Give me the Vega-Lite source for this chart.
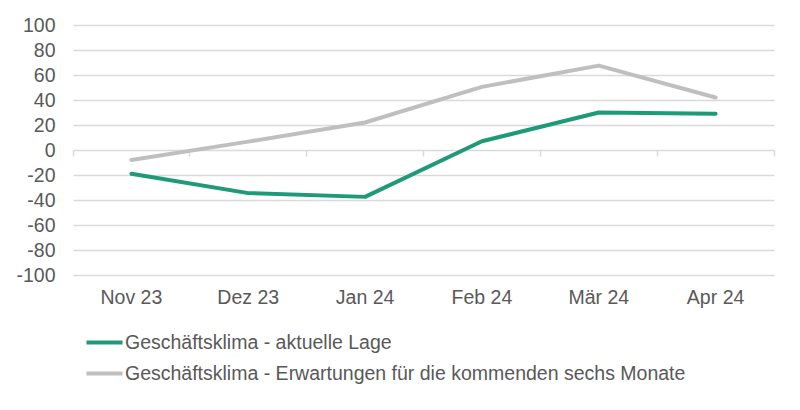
{
  "$schema": "https://vega.github.io/schema/vega-lite/v6.json",
  "width": 701,
  "height": 250,
  "autosize": {"type": "none"},
  "padding": {"left": 73, "top": 25, "right": 26, "bottom": 135},
  "background": "white",
  "config": {
    "font": "Liberation Sans",
    "view": {"stroke": null},
    "axisY": {
      "title": null, "values": [-100, -80, -60, -40, -20, 0, 20, 40, 60, 80, 100],
      "labelExpr": "toString(datum.value)", "labelOverlap": false,
      "domain": false, "ticks": false,
      "gridColor": "#d9d9d9", "gridWidth": 1.5,
      "labelFontSize": 19.5, "labelColor": "#595959", "labelPadding": 18
    }
  },
  "data": {
    "values": [
      {"monat": "Nov 23", "reihe": "Geschäftsklima - aktuelle Lage", "wert": -19},
      {"monat": "Dez 23", "reihe": "Geschäftsklima - aktuelle Lage", "wert": -34.5},
      {"monat": "Jan 24", "reihe": "Geschäftsklima - aktuelle Lage", "wert": -37.5},
      {"monat": "Feb 24", "reihe": "Geschäftsklima - aktuelle Lage", "wert": 7},
      {"monat": "Mär 24", "reihe": "Geschäftsklima - aktuelle Lage", "wert": 30},
      {"monat": "Apr 24", "reihe": "Geschäftsklima - aktuelle Lage", "wert": 29},
      {"monat": "Nov 23", "reihe": "Geschäftsklima - Erwartungen für die kommenden sechs Monate", "wert": -8},
      {"monat": "Dez 23", "reihe": "Geschäftsklima - Erwartungen für die kommenden sechs Monate", "wert": 6.7},
      {"monat": "Jan 24", "reihe": "Geschäftsklima - Erwartungen für die kommenden sechs Monate", "wert": 22},
      {"monat": "Feb 24", "reihe": "Geschäftsklima - Erwartungen für die kommenden sechs Monate", "wert": 50.5},
      {"monat": "Mär 24", "reihe": "Geschäftsklima - Erwartungen für die kommenden sechs Monate", "wert": 67.5},
      {"monat": "Apr 24", "reihe": "Geschäftsklima - Erwartungen für die kommenden sechs Monate", "wert": 42}
    ]
  },
  "resolve": {"axis": {"x": "independent"}},
  "layer": [
    {
      "mark": {"type": "point", "opacity": 0},
      "encoding": {
        "x": {
          "field": "monat", "type": "ordinal", "sort": null,
          "scale": {"type": "band", "paddingInner": 0, "paddingOuter": 0},
          "axis": {
            "title": null, "orient": "bottom", "offset": -125,
            "labels": false, "domain": false, "grid": false,
            "ticks": true, "tickSize": 6, "tickColor": "#d9d9d9", "tickWidth": 1.5,
            "bandPosition": 1, "tickExtra": true
          }
        },
        "y": {
          "field": "wert", "type": "quantitative",
          "scale": {"domain": [-100, 100], "nice": false, "zero": false}
        }
      }
    },
    {
      "mark": {"type": "line", "strokeWidth": 4, "strokeCap": "round", "strokeJoin": "round"},
      "encoding": {
        "x": {
          "field": "monat", "type": "ordinal", "sort": null,
          "scale": {"type": "band", "paddingInner": 0, "paddingOuter": 0},
          "axis": {
            "title": null, "orient": "bottom", "labelAngle": 0,
            "domain": false, "ticks": false, "grid": false,
            "labelFontSize": 19.5, "labelColor": "#595959", "labelPadding": 13
          }
        },
        "y": {
          "field": "wert", "type": "quantitative",
          "scale": {"domain": [-100, 100], "nice": false, "zero": false}
        },
        "color": {
          "field": "reihe", "type": "nominal",
          "scale": {
            "domain": ["Geschäftsklima - aktuelle Lage", "Geschäftsklima - Erwartungen für die kommenden sechs Monate"],
            "range": ["#1f9a78", "#bfbfbf"]
          },
          "legend": {
            "title": null, "orient": "none", "legendX": 11, "legendY": 297,
            "direction": "vertical",
            "symbolType": "stroke", "symbolStrokeWidth": 4, "symbolSize": 1300,
            "labelFontSize": 19.5, "labelColor": "#595959", "labelLimit": 800,
            "rowPadding": 1, "labelOffset": 0
          }
        }
      }
    }
  ]
}
